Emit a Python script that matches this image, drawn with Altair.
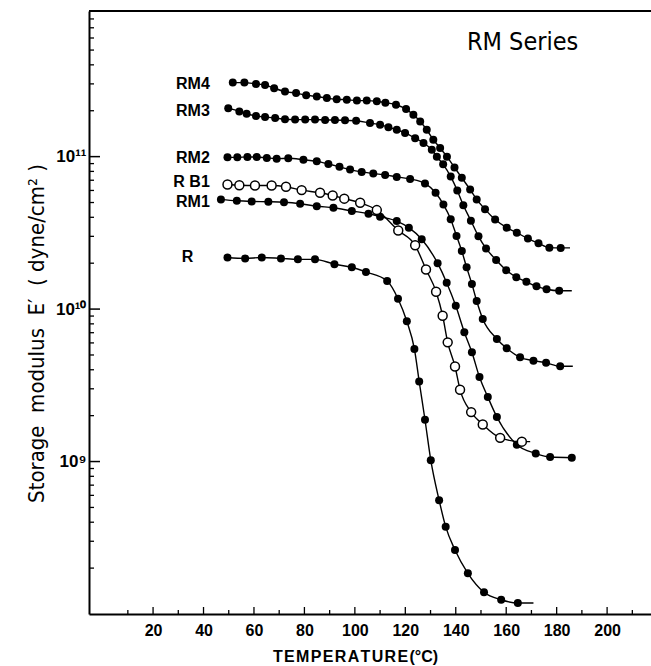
import altair as alt
import pandas as pd

# ---- data (E in units of 1e9 dyne/cm^2, T in deg C) ----
rm4_T = [51.6, 56.2, 60.8, 64.4, 68.0, 72.3, 76.7, 80.7, 84.9, 88.9, 92.8, 96.8, 100.8, 104.7,
         108.7, 112.1, 116.3, 120.3, 123.2, 125.9, 128.5, 131.1, 133.8, 136.5, 139.5, 142.4,
         145.7, 148.3, 151.6, 155.6, 160.2, 164.2, 168.6, 172.8, 177.1, 181.6]
rm4_E = [306, 306, 300, 295, 281, 267, 261, 253, 248, 242, 238, 236, 233, 233,
         231, 226, 219, 205, 188, 170, 150, 129, 114, 100, 85, 72.6,
         60.8, 52.4, 45.1, 38.7, 34.2, 31.7, 29.0, 27.0, 25.3, 25.2]

rm3_T = [49.8, 54.2, 57.1, 60.8, 64.4, 68.4, 72.3, 76.3, 80.3, 84.2, 88.2, 92.1, 96.1, 100.5,
         106.0, 110.0, 113.3, 116.6, 119.9, 123.9, 127.2, 130.5, 132.5, 135.0, 138.0, 140.6,
         143.0, 146.0, 149.0, 152.0, 156.0, 160.0, 164.0, 168.0, 172.0, 176.0, 181.0]
rm3_E = [208, 198, 191, 185, 182, 179, 176, 175, 175, 175, 174, 174, 173, 172,
         166, 162, 156, 150, 143, 132, 123, 111, 100, 89, 74, 60,
         48, 38, 30, 25, 21, 18, 16.2, 15.1, 14.1, 13.5, 13.2]

rm2_T = [49.5, 53.4, 57.4, 61.1, 65.1, 69.0, 73.6, 79.6, 84.9, 89.5, 93.9, 98.1, 102.7, 107.3,
         112.0, 116.6, 121.9, 127.8, 132.0, 135.1, 138.0, 140.3, 142.4, 144.3, 146.4, 148.3,
         150.7, 156.3, 160.2, 165.5, 170.8, 175.8, 181.4]
rm2_E = [98.9, 98.9, 99.5, 99.5, 97.9, 97.0, 97.5, 95.5, 93.1, 89.5, 85.7, 82.2, 79.4, 77.4,
         75.9, 73.6, 71.4, 66.7, 57.9, 48.5, 38.9, 30.2, 24.0, 18.8, 14.6, 11.3,
         8.61, 6.37, 5.53, 4.83, 4.59, 4.44, 4.22]

rb1_T = [49.5, 54.2, 60.4, 67.0, 72.7, 78.9, 86.2, 91.2, 95.8, 102.1, 108.7, 117.2, 123.9,
         128.2, 132.2, 134.8, 136.8, 139.7, 141.7, 146.1, 150.7, 157.6, 166.2]
rb1_E = [65.6, 64.9, 64.6, 64.6, 63.4, 60.3, 57.9, 55.6, 53.0, 49.8, 44.6, 32.8, 26.2,
         18.2, 13.0, 9.04, 6.05, 4.20, 2.96, 2.11, 1.75, 1.43, 1.35]

rm1_T = [46.9, 53.2, 59.1, 65.7, 71.9, 78.3, 84.9, 91.5, 98.8, 105.4, 110.0, 116.6, 121.4,
         126.5, 132.8, 136.4, 140.0, 143.4, 146.4, 149.4, 152.7, 156.3, 164.2, 171.7, 177.4, 186.0]
rm1_E = [52.4, 51.3, 50.8, 50.6, 50.2, 49.1, 47.3, 46.2, 44.0, 42.2, 40.4, 37.8, 34.2,
         28.7, 20.0, 14.9, 10.5, 7.05, 5.21, 3.58, 2.65, 1.96, 1.29, 1.13, 1.07, 1.06]

r_T = [49.5, 56.5, 63.1, 70.7, 77.4, 84.2, 91.9, 98.8, 104.4, 112.8, 117.1, 120.6, 123.6,
       125.5, 127.8, 130.1, 133.4, 136.0, 139.7, 144.8, 151.2, 158.0, 164.6]
r_E = [21.8, 21.5, 21.8, 21.5, 21.2, 21.2, 19.7, 18.8, 17.5, 15.3, 11.7, 8.32, 5.48,
       3.35, 1.88, 1.02, 0.558, 0.374, 0.263, 0.185, 0.139, 0.124, 0.118]

series_names = ["RM4", "RM3", "RM2", "R B1", "RM1", "R"]
series_T = [rm4_T, rm3_T, rm2_T, rb1_T, rm1_T, r_T]
series_E = [rm4_E, rm3_E, rm2_E, rb1_E, rm1_E, r_E]
series_open = [False, False, False, True, False, False]
line_end_T = [185.3, 186.0, 186.4, 169.5, 186.0, 170.8]

label_T = [42.5, 42.5, 42.5, 42.5, 42.5, 36.0]
label_E = [300, 200, 98.4, 68.6, 50.7, 21.9]

note_text = ["RM Series"]
note_T = [166.5]
note_E = [565]

x_tick_labels = list(range(20, 201, 20))
UNIT = 1e9

# ---- tables ----
pts_rows, line_rows = [], []
for name, Ts, Es, op, tend in zip(series_names, series_T, series_E, series_open, line_end_T):
    for t, e in zip(Ts, Es):
        pts_rows.append({"series": name, "T": t, "E": e * UNIT, "open": op})
        line_rows.append({"series": name, "T": t, "E": e * UNIT})
    line_rows.append({"series": name, "T": tend, "E": Es[-1] * UNIT})
pts = pd.DataFrame(pts_rows)
lines = pd.DataFrame(line_rows)
labels = pd.DataFrame({"name": series_names, "T": label_T, "E": [v * UNIT for v in label_E]})
note = pd.DataFrame({"name": note_text, "T": note_T, "E": [v * UNIT for v in note_E]})

W, H = 562, 603
NUM_FONT = "Liberation Sans"
NARROW = "Liberation Sans Narrow, DejaVu Sans Condensed, sans-serif"

xscale = alt.Scale(domain=[-5.4, 217.4], nice=False, zero=False)
yscale = alt.Scale(type="log", domain=[1.0e8, 9.02e11], nice=False)

x_enc = alt.X("T:Q", scale=xscale, axis=alt.Axis(
    values=x_tick_labels, ticks=False, grid=False, labelFont=NUM_FONT, labelFontWeight="bold",
    labelFontSize=16, labelColor="black", labelPadding=8, domainColor="black", domainWidth=2,
    title="T\u200aE\u200aM\u200aP\u200aE\u200aR\u200aA\u200aT\u200aU\u200aR\u200aE\u200a(°C)",
    titleFont=NUM_FONT, titleFontWeight="bold", titleFontSize=16,
    titleColor="black", titleX=266, titleY=42, titleAlign="center", titleBaseline="middle"))
y_enc = alt.Y("E:Q", scale=yscale, axis=alt.Axis(
    values=[1e9, 1e10, 1e11], ticks=False, grid=False,
    labelExpr="['10⁸','10⁹','10¹⁰','10¹¹'][round(log(datum.value)/LN10)-8]",
    labelFont=NUM_FONT, labelFontWeight="bold", labelFontSize=17, labelColor="black",
    labelPadding=3, domainColor="black", domainWidth=2,
    title="Storage\u00a0 modulus\u00a0 E′\u00a0 (\u00a0dyne/cm²\u00a0)", titleFont=NARROW,
    titleFontWeight="normal", titleFontSize=22, titleColor="black", titleAngle=270,
    titleX=-53, titleY=322, titleAlign="center", titleBaseline="middle"))

line_layer = alt.Chart(lines).mark_line(color="black", strokeWidth=1.4, interpolate="monotone").encode(
    x=x_enc, y=y_enc, detail="series:N", order="T:Q")
filled_layer = alt.Chart(pts).transform_filter("!datum.open").mark_circle(
    size=64, color="black", opacity=1).encode(x=x_enc, y=y_enc)
open_layer = alt.Chart(pts).transform_filter("datum.open").mark_point(
    shape="circle", size=80, filled=True, fill="white", stroke="black", strokeWidth=1.5,
    opacity=1).encode(x=x_enc, y=y_enc)
label_layer = alt.Chart(labels).mark_text(
    align="right", baseline="middle", font=NUM_FONT, fontWeight="bold", fontSize=16,
    color="black").encode(x=x_enc, y=y_enc, text="name:N")
note_layer = alt.Chart(note).mark_text(
    align="center", baseline="middle", font=NARROW, fontSize=25, color="black").encode(
    x=x_enc, y=y_enc, text="name:N")

# inward axis ticks
xt = pd.DataFrame({"T": list(range(10, 211, 10))})
xt["major"] = xt["T"] % 20 == 0
x_major = alt.Chart(xt).transform_filter("datum.major").mark_rule(color="black", strokeWidth=1.3).encode(
    x=x_enc, y=alt.value(H), y2=alt.value(H - 7))
x_minor = alt.Chart(xt).transform_filter("!datum.major").mark_rule(color="black", strokeWidth=1.3).encode(
    x=x_enc, y=alt.value(H), y2=alt.value(H - 4))
yt_rows = []
for d in range(8, 12):
    for m in range(1, 10):
        v = m * 10.0 ** d
        if 1.0e8 < v < 9.0e11:
            yt_rows.append({"E": v, "major": m == 1})
yt = pd.DataFrame(yt_rows)
y_major = alt.Chart(yt).transform_filter("datum.major").mark_rule(color="black", strokeWidth=1.5).encode(
    y=y_enc, x=alt.value(0), x2=alt.value(11))
y_minor = alt.Chart(yt).transform_filter("!datum.major").mark_rule(color="black", strokeWidth=1.3).encode(
    y=y_enc, x=alt.value(0), x2=alt.value(5))
top_border = alt.Chart(pd.DataFrame({"a": [0]})).mark_rule(color="black", strokeWidth=2).encode(
    x=alt.value(0), x2=alt.value(W), y=alt.value(0))

chart = alt.layer(
    line_layer, filled_layer, open_layer, label_layer, note_layer,
    x_major, x_minor, y_major, y_minor, top_border
).properties(
    width=W, height=H,
    padding={"left": 89, "top": 11, "right": 0, "bottom": 52},
    autosize=alt.AutoSizeParams(type="none"),
    background="white",
).configure_view(stroke=None)

chart.save("out.html", embed_options={"renderer": "svg", "actions": False})
